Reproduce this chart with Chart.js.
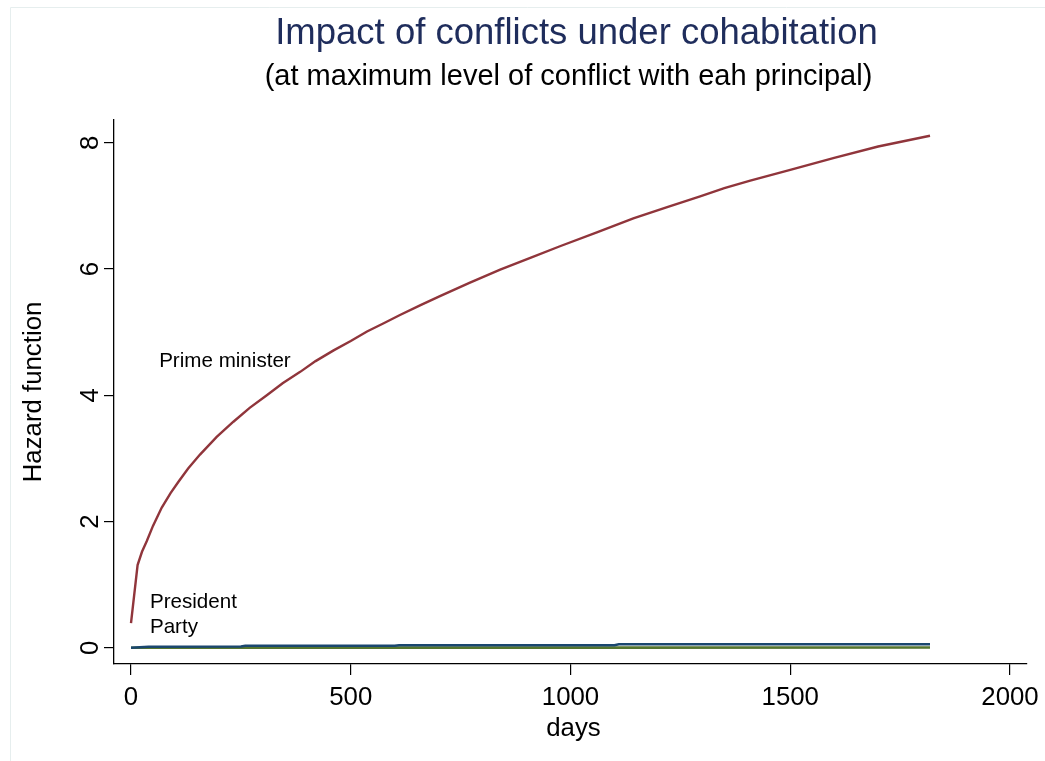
<!DOCTYPE html>
<html>
<head>
<meta charset="utf-8">
<script src="https://cdn.jsdelivr.net/npm/chart.js@4"></script>
<style>
  html, body { margin: 0; padding: 0; background: #ffffff; }
  #wrap { width: 1045px; height: 761px; position: relative; }
</style>
</head>
<body>
<div id="wrap"><canvas id="c" width="1045" height="761"></canvas></div>
<script>
// Hazard over time (days) for each principal
const pmDays = [0, 15, 25, 36, 50, 70, 90, 108, 130, 157, 195, 233, 270, 309, 345, 385, 420, 461, 500, 537, 575, 612, 660, 703, 770, 840, 910, 976, 1060, 1143, 1220, 1295, 1350, 1409, 1500, 1600, 1700, 1818];
const primeMinister = [0.39, 1.31, 1.52, 1.69, 1.93, 2.22, 2.45, 2.63, 2.84, 3.06, 3.34, 3.58, 3.80, 4.00, 4.19, 4.37, 4.54, 4.71, 4.86, 5.01, 5.14, 5.27, 5.43, 5.57, 5.78, 5.99, 6.18, 6.36, 6.58, 6.80, 6.98, 7.15, 7.28, 7.40, 7.57, 7.76, 7.94, 8.11];

const presDays = [0, 40, 250, 260, 600, 610, 1100, 1110, 1818];
const president = [0.0, 0.015, 0.02, 0.03, 0.03, 0.04, 0.04, 0.055, 0.055];

const partyDays = [0, 250, 600, 1100, 1818];
const party = [0.0, 0.001, 0.002, 0.002, 0.003];

const xTickValues = [0, 500, 1000, 1500, 2000];
const yTickValues = [0, 2, 4, 6, 8];

const FONT = '"Liberation Sans", Arial, Helvetica, sans-serif';

function pairs(xs, ys) { return xs.map((x, i) => ({ x: x, y: ys[i] })); }

// text labels placed next to the curves, in data coordinates
const curveLabels = [
  { text: 'Prime minister', day: 64, value: 4.45 },
  { text: 'President', day: 43, value: 0.624 },
  { text: 'Party', day: 43, value: 0.228 }
];

const decor = {
  id: 'decor',
  beforeDraw(chart) {
    const ctx = chart.ctx;
    ctx.save();
    ctx.fillStyle = '#ffffff';
    ctx.fillRect(0, 0, chart.width, chart.height);
    ctx.strokeStyle = '#e6eeee';
    ctx.lineWidth = 1;
    ctx.beginPath();
    ctx.moveTo(10.5, chart.height);
    ctx.lineTo(10.5, 7.5);
    ctx.lineTo(chart.width, 7.5);
    ctx.stroke();
    ctx.restore();
  },
  afterDraw(chart) {
    const ctx = chart.ctx;
    const xs = chart.scales.x, ys = chart.scales.y;
    const ca = chart.chartArea;
    const cx = (ca.left + ca.right) / 2 + 6;
    ctx.save();
    ctx.textAlign = 'center';
    ctx.textBaseline = 'alphabetic';

    ctx.fillStyle = '#1f2d5c';
    ctx.font = '36.5px ' + FONT;
    ctx.fillText('Impact of conflicts under cohabitation', cx, 44);

    ctx.fillStyle = '#000000';
    ctx.font = '29px ' + FONT;
    ctx.fillText('(at maximum level of conflict with eah principal)', cx - 8, 85);

    // x tick labels
    ctx.font = '25.8px ' + FONT;
    xs.ticks.forEach(t => {
      ctx.fillText(String(t.value), xs.getPixelForValue(t.value), 705);
    });
    ctx.fillText('days', (ca.left + ca.right) / 2 + 3, 736);

    // y tick labels, rotated
    ys.ticks.forEach(t => {
      ctx.save();
      ctx.translate(98, ys.getPixelForValue(t.value));
      ctx.rotate(-Math.PI / 2);
      ctx.fillText(String(t.value), 0, 0);
      ctx.restore();
    });
    ctx.save();
    ctx.translate(41, (ca.top + ca.bottom) / 2);
    ctx.rotate(-Math.PI / 2);
    ctx.fillText('Hazard function', 0, 0);
    ctx.restore();

    // curve labels
    ctx.textAlign = 'left';
    ctx.font = '20.6px ' + FONT;
    curveLabels.forEach(l => {
      ctx.fillText(l.text, xs.getPixelForValue(l.day), ys.getPixelForValue(l.value));
    });
    ctx.restore();
  }
};

new Chart(document.getElementById('c'), {
  type: 'line',
  data: {
    datasets: [
      { label: 'Prime minister', data: pairs(pmDays, primeMinister), borderColor: '#90353b', borderWidth: 2.4, pointRadius: 0, tension: 0, fill: false },
      { label: 'President', data: pairs(presDays, president), borderColor: '#1a476f', borderWidth: 2.6, pointRadius: 0, tension: 0, fill: false },
      { label: 'Party', data: pairs(partyDays, party), borderColor: '#55752f', borderWidth: 2.6, pointRadius: 0, tension: 0, fill: false }
    ]
  },
  options: {
    responsive: false,
    animation: false,
    devicePixelRatio: 1,
    layout: { padding: { left: 0, top: 120, right: 18, bottom: 0 } },
    plugins: { legend: { display: false }, tooltip: { enabled: false }, title: { display: false } },
    scales: {
      x: {
        type: 'linear', min: -38.68, max: 2038.7,
        afterBuildTicks: s => { s.ticks = xTickValues.map(v => ({ value: v })); },
        afterFit: s => { s.height = 97; },
        grid: { drawOnChartArea: false, drawTicks: true, tickLength: 11, color: '#000000', lineWidth: 1.2 },
        border: { display: true, color: '#000000', width: 1.3 },
        ticks: { display: false }
      },
      y: {
        type: 'linear', min: -0.258, max: 8.36,
        afterBuildTicks: s => { s.ticks = yTickValues.map(v => ({ value: v })); },
        afterFit: s => { s.width = 114; },
        grid: { drawOnChartArea: false, drawTicks: true, tickLength: 10, color: '#000000', lineWidth: 1.2 },
        border: { display: true, color: '#000000', width: 1.3 },
        ticks: { display: false }
      }
    }
  },
  plugins: [decor]
});
</script>
</body>
</html>
